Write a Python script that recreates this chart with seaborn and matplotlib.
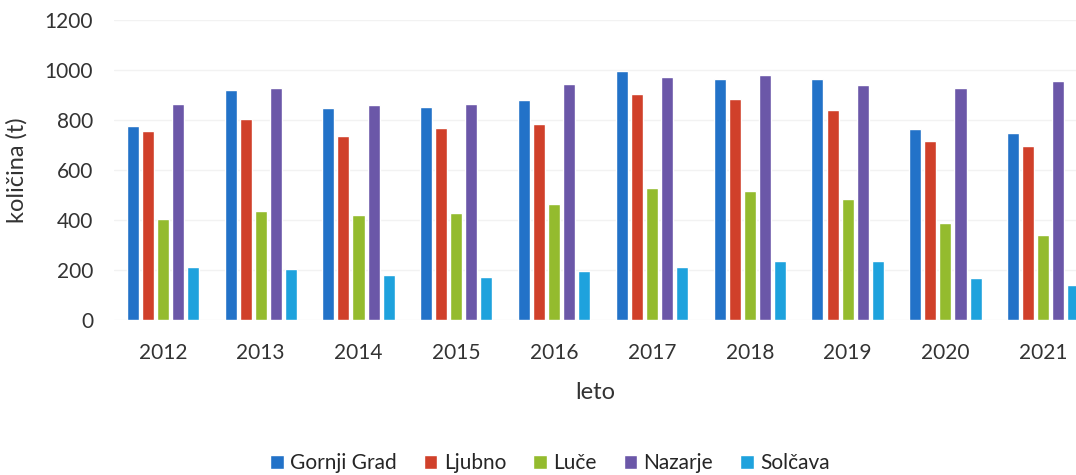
import pandas as pd
import matplotlib.pyplot as plt
import seaborn as sns

# data (tonnes per year)
years = ['2012', '2013', '2014', '2015', '2016', '2017', '2018', '2019', '2020', '2021']
gornji_grad = [778, 920, 848, 852, 880, 996, 962, 962, 764, 748]
ljubno = [758, 804, 738, 768, 784, 904, 884, 840, 716, 696]
luce = [404, 436, 420, 428, 464, 528, 516, 484, 388, 340]
nazarje = [864, 928, 860, 866, 944, 970, 980, 938, 928, 956]
solcava = [212, 204, 182, 172, 196, 212, 236, 238, 168, 142]

series = ['Gornji Grad', 'Ljubno', 'Luče', 'Nazarje', 'Solčava']
colors = ['#2272c8', '#d0402a', '#94bb2e', '#6b57a8', '#1ea2dd']

df = pd.DataFrame({'leto': years, 'Gornji Grad': gornji_grad, 'Ljubno': ljubno,
                   'Luče': luce, 'Nazarje': nazarje, 'Solčava': solcava})
long = df.melt(id_vars='leto', var_name='obcina', value_name='kolicina')

sns.set_style('white')
plt.rcParams['font.family'] = ['Lato', 'DejaVu Sans']

fig = plt.figure(figsize=(10.76, 4.75), dpi=100)
ax = fig.add_axes([0.1059, 0.3263, 0.8941, 0.6316])

sns.barplot(data=long, x='leto', y='kolicina', hue='obcina', hue_order=series,
            palette=colors, width=0.77, gap=0.2, saturation=1, ax=ax)

# the original picture is cropped on the right, through the last bar
ax.set_ylim(0, 1200)
ax.set_xlim(-0.5, 9.335)
ax.set_yticks(range(0, 1201, 200))
ax.yaxis.grid(True, color='#f2f2f2', linewidth=1)
ax.set_axisbelow(True)
for s in ax.spines.values():
    s.set_visible(False)
ax.tick_params(axis='both', length=0, labelsize=15, colors='#333333')
ax.tick_params(axis='x', pad=16.5)
ax.tick_params(axis='y', pad=15)
ax.set_xlabel('leto', fontsize=17, color='#333333', labelpad=14)
ax.set_ylabel('količina (t)', fontsize=17, color='#333333', labelpad=12)

ax.legend_.remove()
handles, labels = ax.get_legend_handles_labels()
fig.legend(handles[:5], series, loc='center', bbox_to_anchor=(0.511, 0.025),
           ncol=5, frameon=False, fontsize=15, handlelength=0.66, handleheight=0.66,
           handletextpad=0.3, columnspacing=1.3)

fig.savefig('out.png', dpi=100)
